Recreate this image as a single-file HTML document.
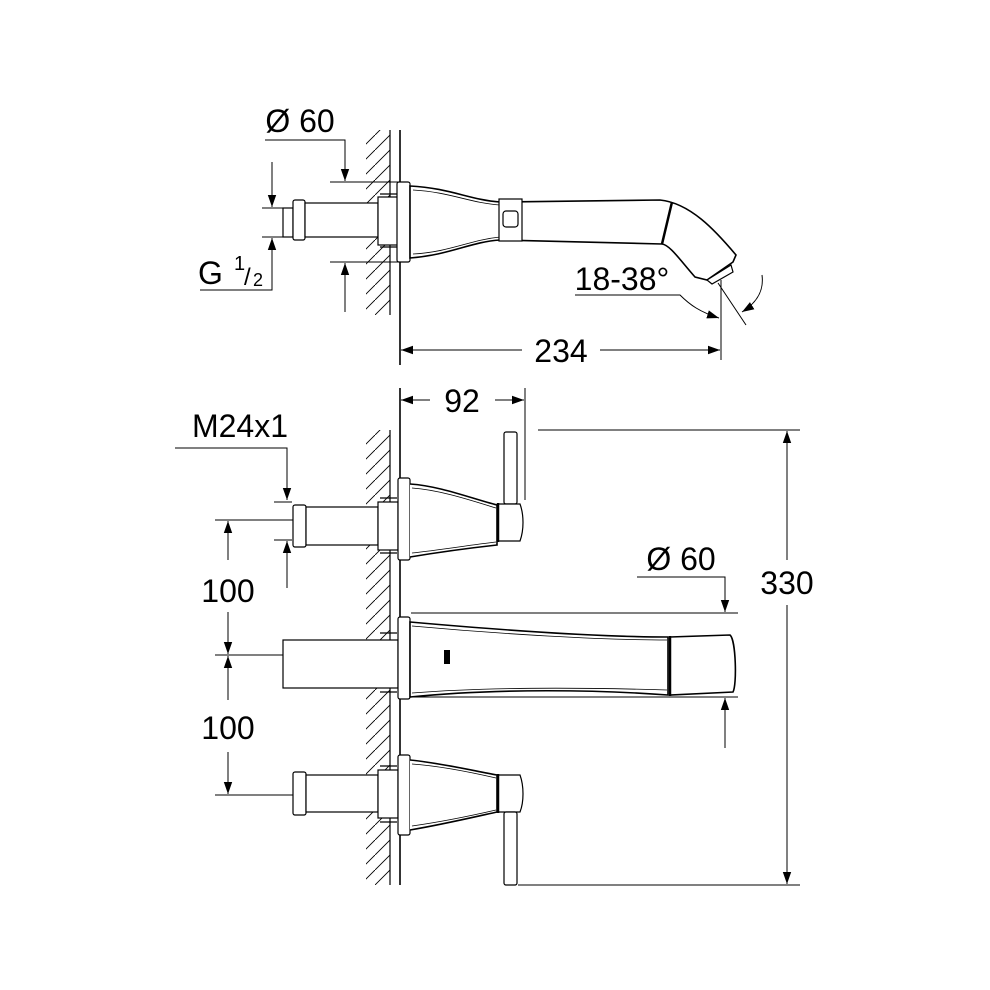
<!DOCTYPE html>
<html><head><meta charset="utf-8"><style>
html,body{margin:0;padding:0;background:#fff;}
svg{display:block;}
text{font-family:"Liberation Sans",sans-serif;fill:#000;}
</style></head><body>
<svg width="990" height="990" viewBox="0 0 990 990" xmlns="http://www.w3.org/2000/svg">
<defs>
<pattern id="h" width="15" height="15" patternUnits="userSpaceOnUse">
<line x1="0" y1="15" x2="15" y2="0" stroke="#000" stroke-width="0.9"/>
</pattern>
<marker id="a" viewBox="0 0 10 10" refX="10" refY="5" markerWidth="12" markerHeight="12" markerUnits="userSpaceOnUse" orient="auto-start-reverse"><path d="M0,1.5 L10,5 L0,8.5z" fill="#000"/></marker>
</defs>
<g fill="none" stroke="#000" stroke-width="1.2">
<!-- TOP VIEW wall -->
<rect x="366" y="130" width="24" height="185" fill="url(#h)" stroke="none"/>
<line x1="390" y1="130" x2="390" y2="315"/>
<line x1="400" y1="130" x2="400" y2="365" stroke-width="1.6"/>
<!-- top pipe -->
<rect x="283" y="208" width="10" height="29" fill="#fff"/>
<rect x="293" y="200" width="12" height="40" rx="2" fill="#fff"/>
<rect x="305" y="203" width="73" height="34" fill="#fff"/>
<rect x="378" y="197" width="20" height="48" fill="#fff"/>
<line x1="380" y1="194" x2="397" y2="194"/><line x1="380" y1="247" x2="397" y2="247"/>
<rect x="397" y="182" width="13" height="80" rx="2" fill="#fff"/>
<path d="M410,186 C450,188 470,200 500,202 L660,200 C690,203 715,230 736,255 L733,262 L707,280 L695,277 C680,260 670,245 662,244 L500,240 C470,242 450,255 410,258 Z" fill="#fff" stroke-width="1.6"/>
<path d="M413,190 C450,192 470,203 500,205 M413,254 C450,252 470,240 500,237" stroke-width="0.8"/>
<line x1="672" y1="202" x2="662" y2="244" stroke-width="2.5"/>
<rect x="499" y="199" width="23" height="42" fill="#fff"/>
<rect x="503" y="211" width="15" height="16" rx="3"/>
<path d="M707,280 L731,265 L733,272 L712,284 Z" fill="#fff"/>
<!-- top dims -->
<text x="300" y="132" font-size="32" text-anchor="middle" stroke="none">Ø 60</text>
<polyline points="265,140 345,140 345,181" marker-end="url(#a)" stroke-width="1"/>
<line x1="330" y1="182" x2="400" y2="182" stroke-width="1"/>
<line x1="330" y1="262" x2="400" y2="262" stroke-width="1"/>
<line x1="345" y1="312" x2="345" y2="263" marker-end="url(#a)" stroke-width="1"/>
<line x1="272" y1="162" x2="272" y2="207" marker-end="url(#a)" stroke-width="1"/>
<line x1="262" y1="208" x2="292" y2="208" stroke-width="1"/>
<line x1="262" y1="237" x2="292" y2="237" stroke-width="1"/>
<polyline points="200,290 272,290 272,238" marker-end="url(#a)" stroke-width="1"/>
<text x="198" y="284" font-size="32" stroke="none">G</text>
<text x="234" y="270" font-size="20" stroke="none">1</text>
<text x="244" y="285" font-size="24" stroke="none">/</text>
<text x="253" y="286" font-size="18" stroke="none">2</text>
<text x="622" y="290" font-size="32" text-anchor="middle" stroke="none">18-38°</text>
<path d="M575,295 L680,295 C690,305 700,312 719,318" marker-end="url(#a)" stroke-width="1"/>
<line x1="721" y1="280" x2="721" y2="360" stroke-width="1"/>
<line x1="718" y1="283" x2="746" y2="325" stroke-width="1"/>
<path d="M762,275 C764,290 758,302 742,312" marker-end="url(#a)" stroke-width="1"/>
<line x1="401" y1="350" x2="522" y2="350" marker-start="url(#a)" stroke-width="1"/>
<line x1="600" y1="350" x2="720" y2="350" marker-end="url(#a)" stroke-width="1"/>
<text x="561" y="362" font-size="32" text-anchor="middle" stroke="none">234</text>

<!-- BOTTOM VIEW wall -->
<rect x="366" y="430" width="24" height="455" fill="url(#h)" stroke="none"/>
<line x1="390" y1="430" x2="390" y2="885"/>
<line x1="400" y1="388" x2="400" y2="885" stroke-width="1.6"/>
<!-- 92 -->
<line x1="525" y1="388" x2="525" y2="500" stroke-width="1"/>
<line x1="401" y1="400" x2="430" y2="400" marker-start="url(#a)" stroke-width="1"/>
<line x1="495" y1="400" x2="524" y2="400" marker-end="url(#a)" stroke-width="1"/>
<text x="462" y="412" font-size="32" text-anchor="middle" stroke="none">92</text>
<!-- top handle -->
<rect x="293" y="505" width="13" height="42" rx="2" fill="#fff"/>
<rect x="306" y="507" width="72" height="38" fill="#fff"/>
<rect x="378" y="502" width="20" height="48" fill="#fff"/>
<line x1="380" y1="498" x2="397" y2="498"/><line x1="380" y1="553" x2="397" y2="553"/>
<rect x="398" y="478" width="12" height="82" rx="2" fill="#fff"/>
<path d="M410,484 C440,486 470,498 497,505 L497,545 C470,548 440,552 410,557" fill="#fff" stroke-width="1.6"/>
<path d="M412,488 C440,490 470,500 496,508 M412,553 C440,550 470,545 496,542" stroke-width="0.8"/>
<rect x="504" y="432" width="13" height="72" rx="2" fill="#fff"/>
<path d="M498,504 L520,504 C524,515 524,530 520,541 L498,541 Z" fill="#fff"/>
<line x1="498" y1="503" x2="498" y2="542" stroke-width="2.5"/>
<!-- middle spout -->
<rect x="283" y="640" width="115" height="48" fill="#fff"/>
<line x1="380" y1="633" x2="397" y2="633"/><line x1="380" y1="692" x2="397" y2="692"/>
<rect x="398" y="617" width="12" height="82" rx="2" fill="#fff"/>
<path d="M410,622 C500,630 600,637 668,637 L668,695 C600,690 500,688 410,697 Z" fill="#fff" stroke-width="1.6"/>
<path d="M412,626 C500,634 600,640 667,640 M412,693 C500,686 600,688 667,690" stroke-width="0.8"/>
<path d="M670,637 L730,635 C736,640 737,685 733,692 L670,695 Z" fill="#fff" stroke-width="1.6"/>
<line x1="670" y1="636" x2="670" y2="696" stroke-width="2.5"/>
<rect x="444" y="650" width="6" height="14" fill="#000" stroke="none"/>
<!-- bottom handle -->
<rect x="293" y="772" width="13" height="43" rx="2" fill="#fff"/>
<rect x="306" y="775" width="72" height="37" fill="#fff"/>
<rect x="378" y="770" width="20" height="48" fill="#fff"/>
<line x1="380" y1="766" x2="397" y2="766"/><line x1="380" y1="822" x2="397" y2="822"/>
<rect x="398" y="755" width="12" height="80" rx="2" fill="#fff"/>
<path d="M410,760 C440,763 470,770 497,775 L497,812 C470,818 440,825 410,830" fill="#fff" stroke-width="1.6"/>
<path d="M412,764 C440,766 470,772 496,778 M412,826 C440,822 470,816 496,810" stroke-width="0.8"/>
<path d="M498,775 L520,775 C524,786 524,802 520,812 L498,812 Z" fill="#fff"/>
<line x1="498" y1="774" x2="498" y2="813" stroke-width="2.5"/>
<rect x="504" y="812" width="13" height="73" rx="2" fill="#fff"/>
<!-- M24x1 -->
<text x="240" y="437" font-size="32" text-anchor="middle" stroke="none">M24x1</text>
<polyline points="175,448 287,448 287,500" marker-end="url(#a)" stroke-width="1"/>
<line x1="274" y1="502" x2="292" y2="502" stroke-width="1"/>
<line x1="274" y1="540" x2="292" y2="540" stroke-width="1"/>
<line x1="287" y1="588" x2="287" y2="541" marker-end="url(#a)" stroke-width="1"/>
<!-- 100 dims -->
<line x1="215" y1="520" x2="293" y2="520" stroke-width="1"/>
<line x1="228" y1="560" x2="228" y2="521" marker-end="url(#a)" stroke-width="1"/>
<text x="228" y="602" font-size="32" text-anchor="middle" stroke="none">100</text>
<line x1="228" y1="612" x2="228" y2="654" marker-end="url(#a)" stroke-width="1"/>
<line x1="215" y1="655" x2="283" y2="655" stroke-width="1"/>
<line x1="228" y1="700" x2="228" y2="656" marker-end="url(#a)" stroke-width="1"/>
<text x="228" y="739" font-size="32" text-anchor="middle" stroke="none">100</text>
<line x1="228" y1="752" x2="228" y2="794" marker-end="url(#a)" stroke-width="1"/>
<line x1="215" y1="795" x2="293" y2="795" stroke-width="1"/>
<!-- Ø60 lower -->
<text x="681" y="570" font-size="32" text-anchor="middle" stroke="none">Ø 60</text>
<polyline points="637,577 725,577 725,612" marker-end="url(#a)" stroke-width="1"/>
<line x1="411" y1="613" x2="738" y2="613" stroke-width="1"/>
<line x1="411" y1="697" x2="738" y2="697" stroke-width="1"/>
<line x1="725" y1="748" x2="725" y2="698" marker-end="url(#a)" stroke-width="1"/>
<!-- 330 -->
<line x1="538" y1="430" x2="800" y2="430" stroke-width="1"/>
<line x1="518" y1="885" x2="800" y2="885" stroke-width="1"/>
<line x1="787" y1="431" x2="787" y2="560" marker-start="url(#a)" stroke-width="1"/>
<line x1="787" y1="605" x2="787" y2="884" marker-end="url(#a)" stroke-width="1"/>
<text x="787" y="594" font-size="32" text-anchor="middle" stroke="none">330</text>
</g>
</svg>
</body></html>
